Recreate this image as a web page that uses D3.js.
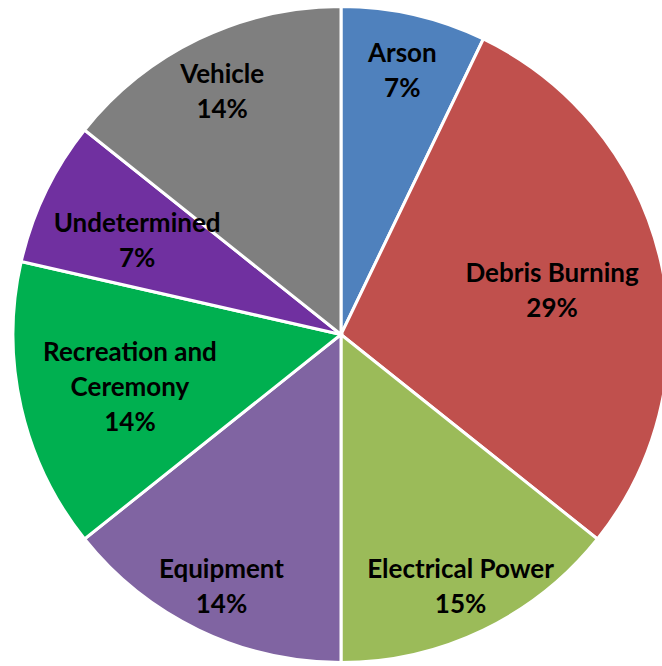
<!DOCTYPE html>
<html><head><meta charset="utf-8">
<script src="https://cdn.jsdelivr.net/npm/d3@7"></script>
<style>html,body{margin:0;padding:0;background:#fff;overflow:hidden}</style>
</head><body>
<svg id="chart" width="662" height="666"></svg>
<script>
const categories = ["Arson","Debris Burning","Electrical Power","Equipment","Recreation and Ceremony","Undetermined","Vehicle"];
const labelLines = [["Arson"],["Debris Burning"],["Electrical Power"],["Equipment"],["Recreation and","Ceremony"],["Undetermined"],["Vehicle"]];
const values = [1,4,2,2,2,1,2];
const percentLabels = ["7%","29%","15%","14%","14%","7%","14%"];
const colors = ["#4F81BD","#C0504D","#9BBB59","#8064A2","#00B050","#7030A0","#7F7F7F"];
const labelRadiusFrac = [0.84,0.66,0.84,0.84,0.66,0.69,0.835];

const svg = d3.select("#chart");
const cx = 341, cy = 334.5, R = 328;
const g = svg.append("g").attr("transform",`translate(${cx},${cy})`);
const pie = d3.pie().sort(null).value(d=>d)(values);
const arc = d3.arc().innerRadius(0).outerRadius(R);
g.selectAll("path").data(pie).join("path")
  .attr("d",arc).attr("fill",(d,i)=>colors[i])
  .attr("stroke","#fff").attr("stroke-width",3).attr("stroke-linejoin","miter");

const lineH = 35;
pie.forEach((d,i)=>{
  const a = (d.startAngle+d.endAngle)/2;
  const r = R*labelRadiusFrac[i];
  const x = Math.sin(a)*r, y = -Math.cos(a)*r + 4;
  const lines = labelLines[i].concat([percentLabels[i]]);
  const t = g.append("text").attr("text-anchor","middle")
    .attr("font-family","Lato, 'Open Sans', sans-serif").attr("font-weight",700)
    .attr("font-size",26).attr("fill","#000");
  lines.forEach((s,k)=>{
    t.append("tspan").attr("x",x)
     .attr("y", y + (k-(lines.length-1)/2)*lineH)
     .attr("dy","0.35em").text(s);
  });
});
</script>
</body></html>
